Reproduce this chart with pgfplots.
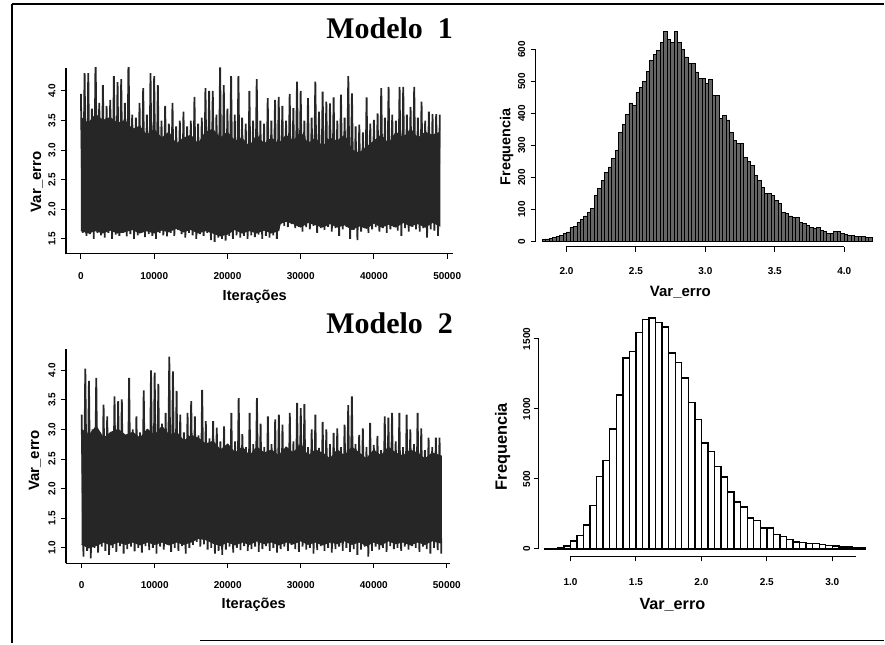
\documentclass[border=0pt]{standalone}
\usepackage{fontspec}
\setmainfont{Liberation Serif}
\setsansfont{Liberation Sans}
\usepackage{pgfplots}
\pgfplotsset{compat=1.18}

\pgfplotsset{
  rstyle/.style={
    scale only axis, anchor=south west,
    axis x line*=bottom, axis y line*=left,
    axis line style={line width=0.6pt, -},
    tick align=outside, major tick length=2.5pt,
    tick style={line width=0.5pt, black},
    tick label style={font=\sffamily\bfseries\fontsize{5}{6}\selectfont},
    /pgf/number format/assume math mode=true,
    yticklabel style={rotate=90, anchor=south, inner sep=0.5pt},
    xticklabel style={anchor=north, inner sep=0.5pt},
    scaled ticks=false,
  },
  hstyle/.style={rstyle, clip=false, x axis line style={draw=none}, y axis line style={draw=none}},
}

\pgfplotstableread[row sep=\\]{
x y\\ 0 3.95\\ 250 1.6\\ 500 4.3\\ 750 1.55\\ 1000 4.3\\ 1250 1.58\\ 1500 3.7\\ 1750 1.5\\ 2000 4.6\\ 2250 1.6\\ 2500 3.8\\ 2750 1.56\\ 3000 4.1\\ 3250 1.52\\ 3500 3.75\\ 3750 1.6\\ 4000 3.85\\ 4250 1.5\\ 4500 4.25\\ 4750 1.57\\ 5000 4.15\\ 5250 1.55\\ 5500 4.2\\ 5750 1.6\\ 6000 3.8\\ 6250 1.54\\ 6500 4.6\\ 6750 1.58\\ 7000 3.6\\ 7250 1.5\\ 7500 3.55\\ 7750 1.56\\ 8000 3.8\\ 8250 1.6\\ 8500 4.05\\ 8750 1.53\\ 9000 3.6\\ 9250 1.58\\ 9500 4.3\\ 9750 1.55\\ 10000 4.25\\ 10250 1.5\\ 10500 4.1\\ 10750 1.6\\ 11000 3.5\\ 11250 1.56\\ 11500 3.75\\ 11750 1.54\\ 12000 3.45\\ 12250 1.6\\ 12500 3.8\\ 12750 1.55\\ 13000 3.4\\ 13250 1.65\\ 13500 3.5\\ 13750 1.58\\ 14000 3.65\\ 14250 1.52\\ 14500 3.4\\ 14750 1.6\\ 15000 3.5\\ 15250 1.56\\ 15500 3.9\\ 15750 1.5\\ 16000 3.45\\ 16250 1.58\\ 16500 3.55\\ 16750 1.55\\ 17000 4.05\\ 17250 1.6\\ 17500 4.0\\ 17750 1.48\\ 18000 4.0\\ 18250 1.45\\ 18500 3.6\\ 18750 1.52\\ 19000 4.4\\ 19250 1.5\\ 19500 4.1\\ 19750 1.47\\ 20000 3.7\\ 20250 1.55\\ 20500 4.25\\ 20750 1.5\\ 21000 3.6\\ 21250 1.56\\ 21500 4.25\\ 21750 1.52\\ 22000 3.55\\ 22250 1.55\\ 22500 3.45\\ 22750 1.5\\ 23000 4.0\\ 23250 1.56\\ 23500 3.5\\ 23750 1.53\\ 24000 4.2\\ 24250 1.57\\ 24500 3.5\\ 24750 1.5\\ 25000 3.45\\ 25250 1.55\\ 25500 3.88\\ 25750 1.52\\ 26000 3.5\\ 26250 1.56\\ 26500 3.85\\ 26750 1.5\\ 27000 3.9\\ 27250 1.75\\ 27500 3.75\\ 27750 1.72\\ 28000 3.5\\ 28250 1.7\\ 28500 3.95\\ 28750 1.75\\ 29000 3.71\\ 29250 1.68\\ 29500 4.16\\ 29750 1.7\\ 30000 4.0\\ 30250 1.62\\ 30500 3.5\\ 30750 1.7\\ 31000 3.88\\ 31250 1.66\\ 31500 3.55\\ 31750 1.72\\ 32000 4.16\\ 32250 1.6\\ 32500 3.65\\ 32750 1.68\\ 33000 3.99\\ 33250 1.65\\ 33500 3.82\\ 33750 1.7\\ 34000 3.79\\ 34250 1.62\\ 34500 3.89\\ 34750 1.68\\ 35000 3.5\\ 35250 1.55\\ 35500 3.94\\ 35750 1.66\\ 36000 3.55\\ 36250 1.7\\ 36500 4.25\\ 36750 1.5\\ 37000 3.96\\ 37250 1.65\\ 37500 3.4\\ 37750 1.48\\ 38000 3.43\\ 38250 1.62\\ 38500 3.3\\ 38750 1.68\\ 39000 3.89\\ 39250 1.6\\ 39500 3.45\\ 39750 1.66\\ 40000 3.51\\ 40250 1.7\\ 40500 3.62\\ 40750 1.62\\ 41000 4.05\\ 41250 1.68\\ 41500 3.55\\ 41750 1.6\\ 42000 4.07\\ 42250 1.66\\ 42500 3.6\\ 42750 1.7\\ 43000 3.5\\ 43250 1.64\\ 43500 4.07\\ 43750 1.55\\ 44000 4.07\\ 44250 1.68\\ 44500 3.6\\ 44750 1.62\\ 45000 3.73\\ 45250 1.7\\ 45500 4.07\\ 45750 1.66\\ 46000 3.55\\ 46250 1.62\\ 46500 3.82\\ 46750 1.68\\ 47000 3.5\\ 47250 1.52\\ 47500 3.65\\ 47750 1.66\\ 48000 3.61\\ 48250 1.64\\ 48500 3.61\\ 48750 1.55\\ 49000 3.6\\
}\traceA

\pgfplotstableread[row sep=\\]{
x y\\ 0 3.55\\ 1000 3.45\\ 2000 3.6\\ 3000 3.5\\ 4000 3.55\\ 5000 3.45\\ 6000 3.5\\ 7000 3.35\\ 8000 3.4\\ 9000 3.25\\ 10000 3.35\\ 11000 3.2\\ 12000 3.3\\ 13000 3.1\\ 14000 3.2\\ 15000 3.25\\ 16000 3.1\\ 17000 3.3\\ 18000 3.35\\ 19000 3.2\\ 20000 3.3\\ 21000 3.15\\ 22000 3.2\\ 23000 3.05\\ 24000 3.25\\ 25000 3.1\\ 26000 3.2\\ 27000 3.1\\ 28000 3.25\\ 29000 3.15\\ 30000 3.3\\ 31000 3.1\\ 32000 3.2\\ 33000 3.05\\ 34000 3.2\\ 35000 3.15\\ 36000 3.25\\ 37000 3.0\\ 38000 2.95\\ 39000 3.05\\ 40000 3.15\\ 41000 3.25\\ 42000 3.1\\ 43000 3.3\\ 44000 3.2\\ 45000 3.35\\ 46000 3.2\\ 47000 3.3\\ 48000 3.25\\ 49000 3.3\\ 49000 1.72\\ 48000 1.78\\ 47000 1.7\\ 46000 1.76\\ 45000 1.72\\ 44000 1.78\\ 43000 1.7\\ 42000 1.75\\ 41000 1.7\\ 40000 1.77\\ 39000 1.68\\ 38000 1.72\\ 37000 1.66\\ 36000 1.74\\ 35000 1.7\\ 34000 1.76\\ 33000 1.7\\ 32000 1.74\\ 31000 1.78\\ 30000 1.7\\ 29000 1.76\\ 28000 1.8\\ 27200 1.76\\ 27000 1.64\\ 26000 1.6\\ 25000 1.65\\ 24000 1.6\\ 23000 1.64\\ 22000 1.6\\ 21000 1.66\\ 20000 1.58\\ 19000 1.55\\ 18000 1.6\\ 17000 1.64\\ 16000 1.6\\ 15000 1.66\\ 14000 1.62\\ 13000 1.68\\ 12000 1.62\\ 11000 1.65\\ 10000 1.6\\ 9000 1.64\\ 8000 1.6\\ 7000 1.66\\ 6000 1.62\\ 5000 1.6\\ 4000 1.65\\ 3000 1.6\\ 2000 1.64\\ 1000 1.6\\ 0 1.64\\
}\bandA

\pgfplotstableread[row sep=\\]{
x y\\ 0 3.25\\ 250 0.85\\ 500 4.03\\ 750 0.95\\ 1000 3.82\\ 1250 0.82\\ 1500 3.0\\ 1750 1.0\\ 2000 3.87\\ 2250 0.92\\ 2500 2.95\\ 2750 1.02\\ 3000 3.42\\ 3250 0.95\\ 3500 3.22\\ 3750 0.88\\ 4000 2.95\\ 4250 1.0\\ 4500 3.56\\ 4750 0.93\\ 5000 3.48\\ 5250 1.03\\ 5500 3.51\\ 5750 0.9\\ 6000 2.9\\ 6250 0.98\\ 6500 3.87\\ 6750 1.02\\ 7000 3.0\\ 7250 0.94\\ 7500 3.22\\ 7750 1.0\\ 8000 2.95\\ 8250 0.92\\ 8500 3.66\\ 8750 1.03\\ 9000 3.0\\ 9250 0.96\\ 9500 4.0\\ 9750 1.0\\ 10000 3.96\\ 10250 0.9\\ 10500 3.77\\ 10750 1.02\\ 11000 3.1\\ 11250 0.97\\ 11500 3.28\\ 11750 1.05\\ 12000 4.23\\ 12250 0.93\\ 12500 3.98\\ 12750 1.0\\ 13000 3.65\\ 13250 0.95\\ 13500 3.25\\ 13750 1.03\\ 14000 2.95\\ 14250 0.9\\ 14500 3.28\\ 14750 1.0\\ 15000 3.48\\ 15250 1.05\\ 15500 3.22\\ 15750 1.1\\ 16000 2.9\\ 16250 1.02\\ 16500 3.67\\ 16750 1.06\\ 17000 3.14\\ 17250 0.97\\ 17500 2.85\\ 17750 1.0\\ 18000 3.14\\ 18250 0.9\\ 18500 3.03\\ 18750 0.95\\ 19000 2.8\\ 19250 0.88\\ 19500 3.05\\ 19750 0.97\\ 20000 2.75\\ 20250 1.02\\ 20500 3.28\\ 20750 0.92\\ 21000 2.8\\ 21250 1.0\\ 21500 3.53\\ 21750 0.96\\ 22000 2.92\\ 22250 1.03\\ 22500 2.7\\ 22750 0.95\\ 23000 3.28\\ 23250 0.98\\ 23500 2.75\\ 23750 1.02\\ 24000 3.53\\ 24250 0.93\\ 24500 3.1\\ 24750 0.98\\ 25000 2.7\\ 25250 1.03\\ 25500 3.22\\ 25750 0.95\\ 26000 2.75\\ 26250 1.0\\ 26500 3.17\\ 26750 0.92\\ 27000 3.25\\ 27250 0.98\\ 27500 3.08\\ 27750 1.02\\ 28000 2.7\\ 28250 0.95\\ 28500 3.28\\ 28750 1.05\\ 29000 2.8\\ 29250 0.98\\ 29500 3.45\\ 29750 0.93\\ 30000 3.36\\ 30250 1.02\\ 30500 3.43\\ 30750 0.97\\ 31000 2.7\\ 31250 1.0\\ 31500 3.0\\ 31750 0.9\\ 32000 3.25\\ 32250 0.96\\ 32500 2.69\\ 32750 1.03\\ 33000 3.13\\ 33250 0.95\\ 33500 3.0\\ 33750 1.0\\ 34000 2.75\\ 34250 0.92\\ 34500 2.94\\ 34750 0.98\\ 35000 3.02\\ 35250 1.02\\ 35500 2.7\\ 35750 0.95\\ 36000 3.08\\ 36250 1.0\\ 36500 3.41\\ 36750 0.93\\ 37000 3.56\\ 37250 0.98\\ 37500 2.75\\ 37750 0.88\\ 38000 2.91\\ 38250 0.97\\ 38500 3.02\\ 38750 1.02\\ 39000 2.7\\ 39250 0.85\\ 39500 3.11\\ 39750 0.95\\ 40000 2.74\\ 40250 1.02\\ 40500 2.89\\ 40750 0.97\\ 41000 2.65\\ 41250 1.0\\ 41500 3.22\\ 41750 0.93\\ 42000 3.2\\ 42250 1.03\\ 42500 3.28\\ 42750 0.98\\ 43000 2.8\\ 43250 1.0\\ 43500 3.28\\ 43750 0.95\\ 44000 2.7\\ 44250 1.02\\ 44500 3.25\\ 44750 0.97\\ 45000 3.0\\ 45250 1.03\\ 45500 2.75\\ 45750 1.0\\ 46000 3.28\\ 46250 0.93\\ 46500 3.02\\ 46750 1.02\\ 47000 2.65\\ 47250 0.98\\ 47500 2.86\\ 47750 0.9\\ 48000 2.7\\ 48250 1.0\\ 48500 2.86\\ 48750 0.96\\ 49000 2.86\\ 49250 0.9\\
}\traceB

\pgfplotstableread[row sep=\\]{
x y\\ 0 3.0\\ 1000 2.9\\ 2000 3.05\\ 3000 2.85\\ 4000 2.95\\ 5000 3.0\\ 6000 2.9\\ 7000 2.95\\ 8000 2.85\\ 9000 3.0\\ 10000 2.9\\ 11000 3.05\\ 12000 2.9\\ 13000 2.95\\ 14000 2.8\\ 15000 2.9\\ 16000 2.85\\ 17000 2.75\\ 18000 2.8\\ 19000 2.65\\ 20000 2.75\\ 21000 2.6\\ 22000 2.7\\ 23000 2.55\\ 24000 2.7\\ 25000 2.6\\ 26000 2.65\\ 27000 2.55\\ 28000 2.7\\ 29000 2.6\\ 30000 2.75\\ 31000 2.55\\ 32000 2.65\\ 33000 2.6\\ 34000 2.5\\ 35000 2.65\\ 36000 2.55\\ 37000 2.7\\ 38000 2.6\\ 39000 2.5\\ 40000 2.65\\ 41000 2.55\\ 42000 2.7\\ 43000 2.6\\ 44000 2.55\\ 45000 2.65\\ 46000 2.6\\ 47000 2.5\\ 48000 2.6\\ 49250 2.55\\ 49250 1.08\\ 48000 1.12\\ 47000 1.06\\ 46000 1.1\\ 45000 1.05\\ 44000 1.1\\ 43000 1.07\\ 42000 1.12\\ 41000 1.05\\ 40000 1.1\\ 39000 1.04\\ 38000 1.1\\ 37000 1.06\\ 36000 1.12\\ 35000 1.07\\ 34000 1.1\\ 33000 1.05\\ 32000 1.1\\ 31000 1.06\\ 30000 1.12\\ 29000 1.07\\ 28000 1.1\\ 27000 1.05\\ 26000 1.1\\ 25000 1.07\\ 24000 1.12\\ 23000 1.06\\ 22000 1.1\\ 21000 1.05\\ 20000 1.1\\ 19000 1.04\\ 18000 1.08\\ 17000 1.14\\ 16000 1.16\\ 15000 1.1\\ 14000 1.06\\ 13000 1.1\\ 12000 1.05\\ 11000 1.1\\ 10000 1.06\\ 9000 1.1\\ 8000 1.05\\ 7000 1.1\\ 6000 1.06\\ 5000 1.1\\ 4000 1.05\\ 3000 1.1\\ 2000 1.04\\ 1000 1.0\\ 0 1.06\\
}\bandB

\pgfplotstableread[row sep=\\]{
x y\\ 1.825 6\\ 1.85 8\\ 1.875 10\\ 1.9 12\\ 1.925 15\\ 1.95 18\\ 1.975 24\\ 2.0 30\\ 2.025 43\\ 2.05 48\\ 2.075 60\\ 2.1 68\\ 2.125 80\\ 2.15 90\\ 2.175 102\\ 2.2 144\\ 2.225 165\\ 2.25 191\\ 2.275 215\\ 2.3 233\\ 2.325 260\\ 2.35 285\\ 2.375 342\\ 2.4 365\\ 2.425 397\\ 2.45 433\\ 2.475 426\\ 2.5 467\\ 2.525 483\\ 2.55 500\\ 2.575 533\\ 2.6 567\\ 2.625 585\\ 2.65 598\\ 2.675 621\\ 2.7 658\\ 2.725 631\\ 2.75 621\\ 2.775 658\\ 2.8 621\\ 2.825 600\\ 2.85 577\\ 2.875 556\\ 2.9 556\\ 2.925 530\\ 2.95 509\\ 2.975 509\\ 3.0 494\\ 3.025 506\\ 3.05 457\\ 3.075 457\\ 3.1 384\\ 3.125 394\\ 3.15 380\\ 3.175 342\\ 3.2 316\\ 3.225 306\\ 3.25 306\\ 3.275 264\\ 3.3 250\\ 3.325 238\\ 3.35 207\\ 3.375 190\\ 3.4 170\\ 3.425 149\\ 3.45 149\\ 3.475 144\\ 3.5 128\\ 3.525 120\\ 3.55 92\\ 3.575 87\\ 3.6 80\\ 3.625 76\\ 3.65 76\\ 3.675 60\\ 3.7 57\\ 3.725 50\\ 3.75 45\\ 3.775 40\\ 3.8 45\\ 3.825 35\\ 3.85 32\\ 3.875 26\\ 3.9 26\\ 3.925 31\\ 3.95 31\\ 3.975 24\\ 4.0 22\\ 4.025 19\\ 4.05 19\\ 4.075 16\\ 4.1 16\\ 4.125 16\\ 4.15 13\\ 4.175 13\\ 4.2 13\\
}\histA

\pgfplotstableread[row sep=\\]{
x y\\ 0.80 1\\ 0.85 3\\ 0.90 8\\ 0.95 19\\ 1.00 55\\ 1.05 95\\ 1.10 169\\ 1.15 309\\ 1.20 519\\ 1.25 633\\ 1.30 857\\ 1.35 1100\\ 1.40 1364\\ 1.45 1411\\ 1.50 1547\\ 1.55 1640\\ 1.60 1650\\ 1.65 1618\\ 1.70 1585\\ 1.75 1400\\ 1.80 1333\\ 1.85 1221\\ 1.90 1047\\ 1.95 923\\ 2.00 757\\ 2.05 697\\ 2.10 590\\ 2.15 512\\ 2.20 405\\ 2.25 336\\ 2.30 300\\ 2.35 221\\ 2.40 202\\ 2.45 150\\ 2.50 150\\ 2.55 102\\ 2.60 86\\ 2.65 67\\ 2.70 48\\ 2.75 43\\ 2.80 38\\ 2.85 36\\ 2.90 31\\ 2.95 24\\ 3.00 19\\ 3.05 14\\ 3.10 12\\ 3.15 10\\ 3.20 8\\ 3.25 8\\
}\histB

\begin{document}
\begin{tikzpicture}[x=0.5pt,y=0.5pt]
\path (0,0) rectangle (885,644);
\draw[line width=0.8pt] (12,640) -- (885,640);
\draw[line width=0.8pt] (12,640) -- (12,0);
\draw[line width=0.8pt] (200,3) -- (885,3);

% Modelo 1 trace
\begin{axis}[rstyle, at={(33pt,195pt)}, width=193.5pt, height=93pt,
  xmin=-2046, xmax=50740, ymin=1.247, ymax=4.39,
  xtick={0,10000,20000,30000,40000,50000},
  xticklabels={0,10000,20000,30000,40000,50000},
  ytick={1.5,2,2.5,3,3.5,4}, yticklabels={1.5,2.0,2.5,3.0,3.5,4.0},
  xticklabel shift=6pt, yticklabel shift=2pt]
\addplot[fill=black!85, draw=black!85, line width=0.6pt] table {\bandA};
\addplot[black!85, line width=0.9pt] table {\traceA};
\end{axis}

% Modelo 1 histogram
\begin{axis}[hstyle, at={(268pt,198.5pt)}, width=169.8pt, height=111.5pt,
  xmin=1.777, xmax=4.22, ymin=-16.5, ymax=680,
  xtick={2,2.5,3,3.5,4}, xticklabels={2.0,2.5,3.0,3.5,4.0},
  ytick={0,100,200,300,400,500,600}, yticklabels={0,100,200,300,400,500,600},
  xticklabel shift=7pt, yticklabel shift=2pt]
\addplot[ybar interval, fill=black!60, draw=black, line width=0.4pt] table {\histA};
\draw[line width=0.6pt] (axis cs:2,-16.5) -- (axis cs:4,-16.5);
\draw[line width=0.6pt] (axis cs:1.777,0) -- (axis cs:1.777,600);
\end{axis}

% Modelo 2 trace
\begin{axis}[rstyle, at={(33pt,40pt)}, width=192pt, height=107.35pt,
  xmin=-2150, xmax=50380, ymin=0.735, ymax=4.36,
  xtick={0,10000,20000,30000,40000,50000},
  xticklabels={0,10000,20000,30000,40000,50000},
  ytick={1,1.5,2,2.5,3,3.5,4}, yticklabels={1.0,1.5,2.0,2.5,3.0,3.5,4.0},
  xticklabel shift=6pt, yticklabel shift=2pt]
\addplot[fill=black!85, draw=black!85, line width=0.6pt] table {\bandB};
\addplot[black!85, line width=0.9pt] table {\traceB};
\end{axis}

% Modelo 2 histogram
\begin{axis}[hstyle, at={(269.5pt,43.5pt)}, width=166.7pt, height=122.85pt,
  xmin=0.756, xmax=3.3, ymin=-55, ymax=1700,
  xtick={1,1.5,2,2.5,3}, xticklabels={1.0,1.5,2.0,2.5,3.0},
  ytick={0,500,1000,1500}, yticklabels={0,500,1000,1500},
  xticklabel shift=8pt, yticklabel shift=1pt]
\addplot[ybar interval, fill=white, draw=black, line width=0.7pt] table {\histB};
\draw[line width=0.6pt] (axis cs:1,-55) -- (axis cs:3.18,-55);
\draw[line width=0.6pt] (axis cs:0.756,0) -- (axis cs:0.756,1500);
\end{axis}

\node[font=\sffamily\bfseries\fontsize{7.5}{9}\selectfont, rotate=90] at (37,462) {Var\_erro};
\node[font=\sffamily\bfseries\fontsize{7.3}{9}\selectfont] at (255,347) {Iterações};
\node[font=\sffamily\bfseries\fontsize{7.2}{9}\selectfont, rotate=90] at (507,497) {Frequencia};
\node[font=\sffamily\bfseries\fontsize{7.5}{9}\selectfont] at (681,351) {Var\_erro};
\node[font=\sffamily\bfseries\fontsize{7.5}{9}\selectfont, rotate=90] at (35,183) {Var\_erro};
\node[font=\sffamily\bfseries\fontsize{7.3}{9}\selectfont] at (254,39) {Iterações};
\node[font=\sffamily\bfseries\fontsize{8.2}{10}\selectfont, rotate=90] at (503,197) {Frequencia};
\node[font=\sffamily\bfseries\fontsize{8.1}{10}\selectfont] at (673,39) {Var\_erro};
\node[font=\bfseries\fontsize{15}{18}\selectfont] at (390,616) {Modelo\ \ 1};
\node[font=\bfseries\fontsize{15}{18}\selectfont] at (390,320) {Modelo\ \ 2};
\end{tikzpicture}
\end{document}
